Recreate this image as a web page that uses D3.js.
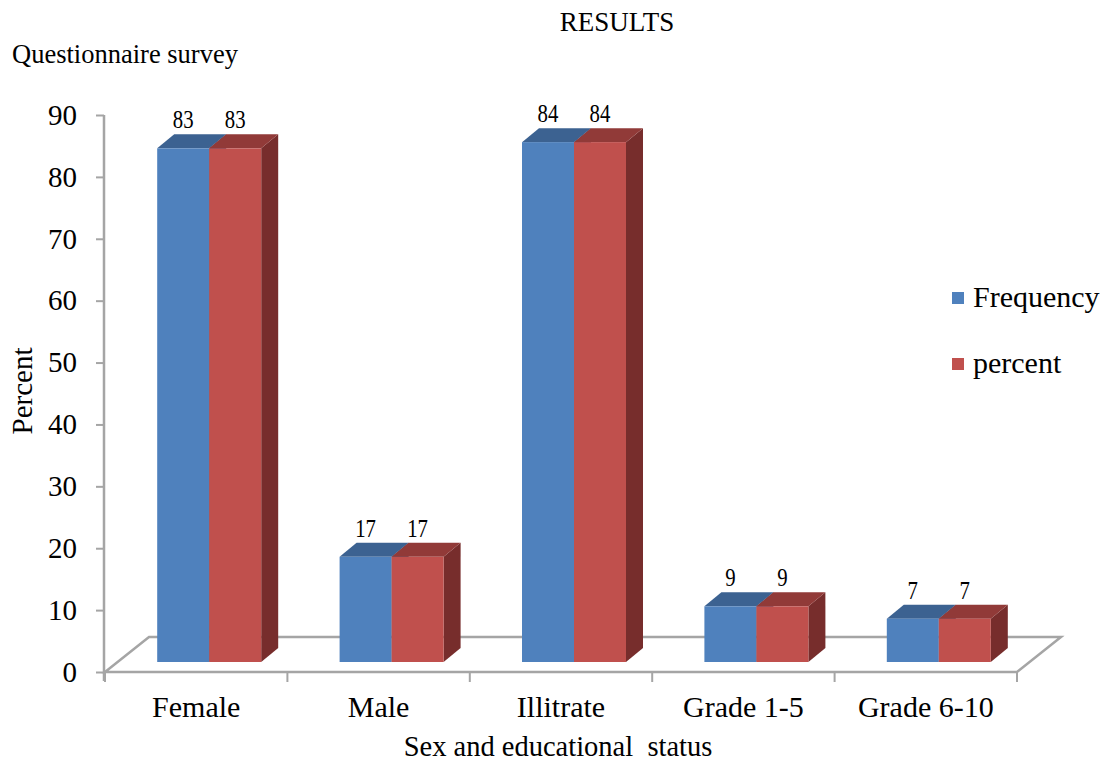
<!DOCTYPE html>
<html>
<head>
<meta charset="utf-8">
<script src="https://cdn.jsdelivr.net/npm/d3@7"></script>
<style>
body { margin: 0; background: #fff; }
svg text { font-family: "Liberation Serif", "Times New Roman", serif !important; fill: #000; }
</style>
</head>
<body>
<main></main>
<script>
// Данные с картинки
var categories = ["Female", "Male", "Illitrate", "Grade 1-5", "Grade 6-10"];
var series_names = ["Frequency", "percent"];
var frequency_values = [83, 17, 84, 9, 7];
var percent_values = [83, 17, 84, 9, 7];
var y_ticks = [0, 10, 20, 30, 40, 50, 60, 70, 80, 90];

var colors = {
    "Frequency": { front: "#4f81bd", top: "#3c6291", side: "#34557e" },
    "percent": { front: "#c0504d", top: "#913a38", side: "#772d2c" }
};

// Смещения для псевдо-3D: глубина пола и глубина столбика
var floor_dx = 44, floor_dy = -35;
var bar_shift_x = 13, bar_shift_y = -10;
var bar_dx = 17, bar_dy = -14;

var svg = d3.select("main").append("svg")
            .attr("width", 1103)
            .attr("height", 763)
            .attr("font-family", "Liberation Serif");

var x_scale = d3.scaleBand()
                .domain(categories)
                .range([105, 1017]);
var inner_scale = d3.scaleBand()
                .domain(series_names)
                .range([39.2, 143.2]);
var y_scale = d3.scaleLinear()
                .domain([0, 90])
                .range([672, 115]);

var rows = categories.map(function(c, i) {
    return { cat: c, values: [
        { name: "Frequency", value: frequency_values[i] },
        { name: "percent", value: percent_values[i] }
    ] };
});

// Заголовки
svg.append("text")
    .attr("x", 617).attr("y", 31)
    .attr("text-anchor", "middle")
    .style("font-size", "27px")
    .text("RESULTS");
svg.append("text")
    .attr("x", 12).attr("y", 63)
    .style("font-size", "26.5px")
    .text("Questionnaire survey");

// Пол (только контур)
var x0 = x_scale.range()[0], x1 = x_scale.range()[1], y0 = y_scale(0);
svg.append("polygon")
    .attr("points", [
        [x0, y0], [x1, y0], [x1 + floor_dx, y0 + floor_dy], [x0 + floor_dx, y0 + floor_dy]
    ].join(" "))
    .attr("fill", "none")
    .attr("stroke", "#a5a5a5")
    .attr("stroke-width", 2.5);

// Ось Y
var y_axis = svg.append("g")
    .attr("transform", "translate(" + (x0 - 1) + ",0)")
    .call(d3.axisLeft(y_scale).tickValues(y_ticks).tickSize(8).tickPadding(19));
y_axis.attr("font-family", null);
y_axis.select(".domain").remove();
y_axis.selectAll(".tick line").attr("stroke", "#a5a5a5").attr("stroke-width", 2);
y_axis.selectAll(".tick text")
    .style("font-size", "29px");
svg.append("line")
    .attr("x1", x0 - 1).attr("x2", x0 - 1)
    .attr("y1", y_scale(90)).attr("y2", y0 + 9)
    .attr("stroke", "#a5a5a5").attr("stroke-width", 2.5);

// Ось X
var x_axis = svg.append("g")
    .attr("transform", "translate(0," + y0 + ")")
    .call(d3.axisBottom(x_scale).tickSize(0).tickPadding(24));
x_axis.attr("font-family", null);
x_axis.select(".domain").remove();
x_axis.selectAll(".tick text")
    .style("font-size", "30px");
var bounds = categories.map(function(c) { return x_scale(c); }).concat([x1]);
svg.selectAll(".xtick")
    .data(bounds)
    .enter()
    .append("line")
    .attr("class", "xtick")
    .attr("x1", function(d) { return d; })
    .attr("x2", function(d) { return d; })
    .attr("y1", y0).attr("y2", y0 + 10)
    .attr("stroke", "#a5a5a5").attr("stroke-width", 2);

// Столбики
var groups = svg.selectAll(".cat")
    .data(rows)
    .enter()
    .append("g")
    .attr("class", "cat")
    .attr("transform", function(d) {
        return "translate(" + (x_scale(d.cat) + bar_shift_x) + "," + bar_shift_y + ")";
    });

var bars = groups.selectAll(".bar")
    .data(function(d) { return d.values; })
    .enter()
    .append("g")
    .attr("class", "bar");

bars.each(function(d) {
    var g = d3.select(this);
    var bx = inner_scale(d.name), bw = inner_scale.bandwidth();
    var top = y_scale(d.value), bottom = y_scale(0);
    g.append("polygon")
        .attr("points", [[bx + bw, top], [bx + bw + bar_dx, top + bar_dy],
            [bx + bw + bar_dx, bottom + bar_dy], [bx + bw, bottom]].join(" "))
        .attr("fill", colors[d.name].side);
    g.append("polygon")
        .attr("points", [[bx, top], [bx + bar_dx, top + bar_dy],
            [bx + bw + bar_dx, top + bar_dy], [bx + bw, top]].join(" "))
        .attr("fill", colors[d.name].top);
    g.append("rect")
        .attr("x", bx).attr("y", top)
        .attr("width", bw).attr("height", bottom - top)
        .attr("fill", colors[d.name].front);
    g.append("text")
        .attr("transform", "translate(" + (bx + bw / 2) + "," + (top - 20) + ") scale(0.8,1)")
        .attr("text-anchor", "middle")
        .style("font-size", "26px")
        .text(d.value);
});

// Подписи осей
svg.append("text")
    .attr("x", 558).attr("y", 756)
    .attr("text-anchor", "middle")
    .style("font-size", "28.5px")
    .style("white-space", "pre")
    .text("Sex and educational  status");
svg.append("text")
    .attr("transform", "translate(32,391) rotate(-90)")
    .attr("text-anchor", "middle")
    .style("font-size", "29px")
    .text("Percent");

// Легенда
var legend = svg.selectAll(".legend")
    .data(series_names)
    .enter()
    .append("g")
    .attr("class", "legend")
    .attr("transform", function(d, i) { return "translate(952," + (292 + i * 66) + ")"; });
legend.append("rect")
    .attr("width", 12).attr("height", 12)
    .attr("fill", function(d) { return colors[d].front; });
legend.append("text")
    .attr("x", 21).attr("y", 15)
    .style("font-size", "30px")
    .text(function(d) { return d; });
</script>
</body>
</html>
